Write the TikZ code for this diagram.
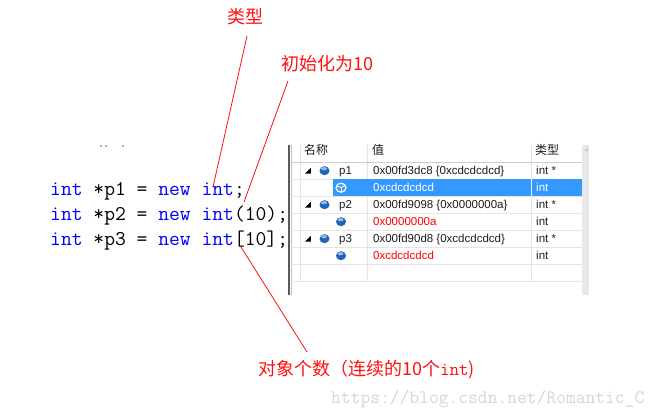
\documentclass[tikz,border=0pt]{standalone}
\usepackage{fontspec}
\setmainfont{Liberation Sans}
\newfontfamily\cjk{Noto Sans CJK SC}
\definecolor{kwblue}{HTML}{0000FF}
\definecolor{lblred}{HTML}{FF1010}
\definecolor{hlblue}{HTML}{3399FF}
\definecolor{iconblue}{HTML}{1F64B8}
\definecolor{gridgray}{HTML}{E4E4E4}
\definecolor{hdrgray}{HTML}{CCCCCC}
\definecolor{sbgray}{HTML}{E8E8EC}
\definecolor{wmgray}{HTML}{D6D6D6}
\definecolor{valred}{HTML}{FF0000}
\definecolor{txt}{HTML}{1E1E1E}
\begin{document}
\begin{tikzpicture}[x=1pt,y=-1pt,
  codetext/.style={inner sep=0pt, anchor=base west, font=\ttfamily\fontsize{21}{25}\selectfont},
  redlabel/.style={inner sep=0pt, text=lblred, font=\cjk\fontsize{18}{20}\selectfont},
  redline/.style={draw=lblred, line width=0.8pt},
  cell/.style={inner sep=0pt, anchor=base west, text=txt, font=\fontsize{11.5}{13}\selectfont},
  hdr/.style={inner sep=0pt, anchor=west, text=txt, font=\cjk\fontsize{12}{14}\selectfont},
  gridline/.style={draw=gridgray, line width=0.8pt},
  dbic/.pic={
    \fill[iconblue] (0,0) ellipse (5 and 4.5);
    \fill[iconblue!45!white] (-0.5,-2) ellipse (3 and 1.6);
  },
  dbicsel/.pic={
    \draw[white, line width=1.2pt] (0,0) ellipse (5 and 4.5);
    \draw[white, line width=1pt] (-4,-1.5) -- (0,-0.2) -- (4,-2.2);
    \draw[white, line width=1pt] (0,-0.2) -- (0,4);
  },
  expander/.pic={
    \fill[black] (-3,2.8) -- (2.8,2.8) -- (2.8,-2.8) -- cycle;
  },
]
\useasboundingbox[fill=white] (0,0) rectangle (662,416);

% ---- watch panel ----
\fill[white] (291,145) rectangle (582,295);
\fill[sbgray] (582,145) rectangle (589,295);
\fill[black!25] (584.5,151) -- (587.5,148) -- (587.5,151) -- cycle;
\draw[black!65, line width=2pt] (289,145) -- (289,295);
\draw[black!25, line width=0.6pt] (291.5,145) -- (291.5,295);
\foreach \xx in {300,367.7,531.7} \draw[gridline] (\xx,145) -- (\xx,281);
\foreach \yy in {179.3,196,213.3,230,247.3,264.3,281} \draw[gridline] (291,\yy) -- (582,\yy);
\draw[hdrgray, line width=0.8pt] (291,162) -- (582,162);
\fill[hlblue] (333.3,179.3) rectangle (582,196);
\draw[white, line width=0.8pt] (531.7,179.3) -- (531.7,196);

\node[hdr] (h1) at (304,150) {名称};
\node[hdr] (h2) at (372,150) {值};
\node[hdr] (h3) at (535,150) {类型};

\pic at (308,170.7) {expander};
\pic at (308,204.7) {expander};
\pic at (308,238.7) {expander};
\pic at (324.5,170.7) {dbic};
\pic at (341,187.7) {dbicsel};
\pic at (324.5,204.7) {dbic};
\pic at (341,221.7) {dbic};
\pic at (324.5,238.7) {dbic};
\pic at (341,255.7) {dbic};

\node[cell] (n1) at (339,174.7) {p1};
\node[cell] (v1) at (373,174.7) {0x00fd3dc8 \{0xcdcdcdcd\}};
\node[cell] (t1) at (536,174.7) {int *};
\node[cell, text=white] (v2) at (373,191.7) {0xcdcdcdcd};
\node[cell, text=white] (t2) at (536,191.7) {int};
\node[cell] (n3) at (339,208.7) {p2};
\node[cell] (v3) at (373,208.7) {0x00fd9098 \{0x0000000a\}};
\node[cell] (t3) at (536,208.7) {int *};
\node[cell, text=valred] (v4) at (373,225.7) {0x0000000a};
\node[cell] (t4) at (536,225.7) {int};
\node[cell] (n5) at (339,242.7) {p3};
\node[cell] (v5) at (373,242.7) {0x00fd90d8 \{0xcdcdcdcd\}};
\node[cell] (t5) at (536,242.7) {int *};
\node[cell, text=valred] (v6) at (373,259.7) {0xcdcdcdcd};
\node[cell] (t6) at (536,259.7) {int};

% ---- code ----
\fill[black!60] (101,146) circle (0.8);
\fill[black!60] (106,146) circle (0.8);
\fill[black!60] (123,146) circle (0.8);
\node[codetext] (c1) at (50,195) {\textcolor{kwblue}{int} *p1 = \textcolor{kwblue}{new} \textcolor{kwblue}{int};};
\node[codetext] (c2) at (50,220) {\textcolor{kwblue}{int} *p2 = \textcolor{kwblue}{new} \textcolor{kwblue}{int}(10);};
\node[codetext] (c3) at (50,245) {\textcolor{kwblue}{int} *p3 = \textcolor{kwblue}{new} \textcolor{kwblue}{int}[10];};

% ---- red annotations ----
\node[redlabel] (lt) at (245,17) {类型};
\node[redlabel, anchor=west] (li) at (281,63.5) {初始化为10};
\node[redlabel, anchor=west] (lc) at (258,369.5) {对象个数（连续的10个{\ttfamily\fontsize{18.5}{20}\selectfont int})};
\coordinate (lt1) at (247,36);
\coordinate (lt2) at (213,187);
\coordinate (li1) at (288,81);
\coordinate (li2) at (244,202);
\coordinate (lc1) at (241,247);
\coordinate (lc2) at (307,352);
\draw[redline] (lt1) -- (lt2);
\draw[redline] (li1) -- (li2);
\draw[redline] (lc1) -- (lc2);

% ---- watermark ----
\node[inner sep=0pt, anchor=base west, text=wmgray, font=\ttfamily\fontsize{19}{22}\selectfont] (wm) at (331,403) {https://blog.csdn.net/Romantic\_C};
\end{tikzpicture}
\end{document}
